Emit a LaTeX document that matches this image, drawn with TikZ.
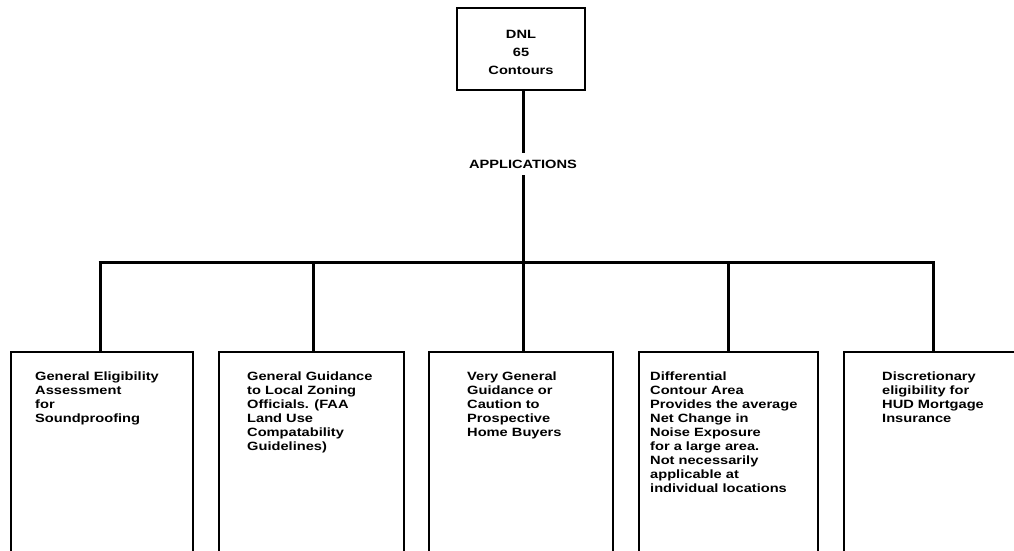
\documentclass[tikz,border=0pt]{standalone}
\usepackage{fontspec}
\setmainfont{Liberation Sans}[FakeStretch=1.22]
\begin{document}
\begin{tikzpicture}[x=1pt,y=-1pt,
  box/.style={draw, line width=2pt, inner sep=0pt, anchor=north west, minimum height=260pt},
  topbox/.style={draw, line width=2pt, inner sep=0pt, minimum width=128pt, minimum height=82pt},
  txt/.style={anchor=north west, align=left, inner sep=0pt, font=\bfseries\fontsize{12}{14}\selectfont},
  conn/.style={line width=3pt}]
\path[use as bounding box, clip] (0,0) rectangle (1014,551);
\fill[white] (0,0) rectangle (1014,551);
% top box
\node[topbox] (top) at (521,49) {};
\node[align=center, inner sep=0pt, font=\bfseries\fontsize{12}{18}\selectfont] (toptxt) at (521,52) {DNL\\65\\Contours};
\node[inner sep=7pt, font=\bfseries\fontsize{12}{14}\selectfont] (app) at (523,164) {APPLICATIONS};
% bottom boxes
\node[box, minimum width=182pt] (b1) at (10,351) {};
\node[box, minimum width=185pt] (b2) at (218,351) {};
\node[box, minimum width=184pt] (b3) at (428,351) {};
\node[box, minimum width=179pt] (b4) at (638,351) {};
\node[box, minimum width=200pt] (b5) at (843,351) {};
% texts
\node[txt] (t1) at (35,372) {General Eligibility\\Assessment\\for\\Soundproofing};
\node[txt] (t2) at (247,372) {General Guidance\\to Local Zoning\\Officials. (FAA\\Land Use\\Compatability\\Guidelines)};
\node[txt] (t3) at (467,372) {Very General\\Guidance or\\Caution to\\Prospective\\Home Buyers};
\node[txt] (t4) at (650,372) {Differential\\Contour Area\\Provides the average\\Net Change in\\Noise Exposure\\for a large area.\\Not necessarily\\applicable at\\individual locations};
\node[txt] (t5) at (882,372) {Discretionary\\eligibility for\\HUD Mortgage\\Insurance};
% connectors
\coordinate (j1) at (100,262);
\coordinate (j2) at (313,262);
\coordinate (j3) at (523,262);
\coordinate (j4) at (728,262);
\coordinate (j5) at (933,262);
\draw[conn] (top.south -| j3) -- (app.north -| j3);
\draw[conn] (app.south -| j3) -- (j3);
\draw[conn] ([xshift=-1.5pt]j1) -- ([xshift=1.5pt]j5);
\draw[conn] (j1) -- (b1.north -| j1);
\draw[conn] (j2) -- (b2.north -| j2);
\draw[conn] (j3) -- (b3.north -| j3);
\draw[conn] (j4) -- (b4.north -| j4);
\draw[conn] (j5) -- (b5.north -| j5);
\end{tikzpicture}
\end{document}
